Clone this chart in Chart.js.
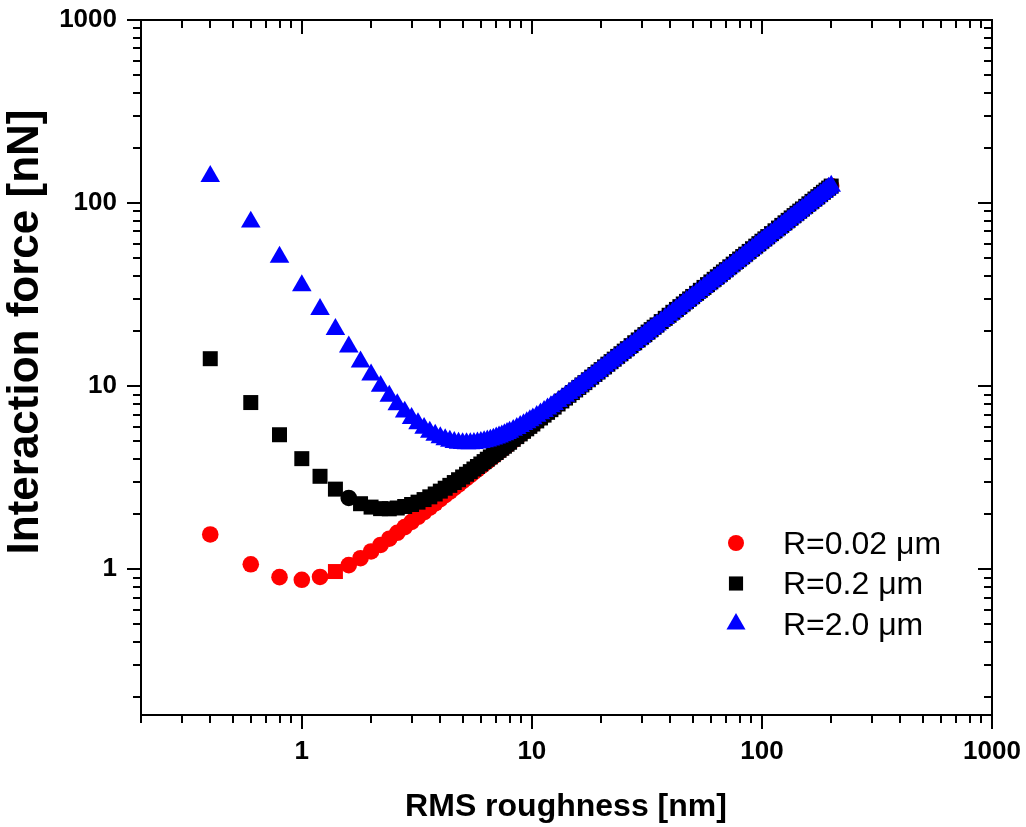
<!DOCTYPE html>
<html>
<head>
<meta charset="utf-8">
<script src="https://cdn.jsdelivr.net/npm/chart.js@4.4.1/dist/chart.umd.min.js"></script>
<style>
  body { margin: 0; background: #fff; }
  #wrap { width: 1026px; height: 827px; }
</style>
</head>
<body>
<div id="wrap"><canvas id="c" width="1026" height="827"></canvas></div>
<script>
// RMS roughness [nm]
const roughness = [
  0.4, 0.6, 0.8, 1.0, 1.2, 1.4, 1.6, 1.8, 2.0, 2.2, 2.4, 2.6, 2.8, 3.0, 3.2, 3.4, 3.6, 3.8, 4.0, 4.2,
  4.4, 4.6, 4.8, 5.0, 5.2, 5.4, 5.6, 5.8, 6.0, 6.2, 6.4, 6.6, 6.8, 7.0, 7.2, 7.4, 7.6, 7.8, 8.0,
  8.3, 8.6, 8.9, 9.2, 9.5, 9.8, 10.1, 10.5, 10.9, 11.3, 11.7, 12.1, 12.5, 13, 13.5, 14, 14.5, 15, 15.5, 16,
  16.5, 17, 17.6, 18.2, 18.8, 19.4, 20,
  20.7, 21.4, 22.1, 22.8, 23.6, 24.4, 25.2, 26, 27, 28, 29, 30, 31, 32, 33, 34, 35, 36.5, 38, 39.5,
  41, 42.5, 44, 45.5, 47, 48.5, 50,
  52, 54, 56, 58, 60, 62, 64, 66, 68, 70, 72.5, 75, 77.5, 80, 82.5, 85, 88, 91, 94, 97, 100,
  103, 106, 110, 114, 118, 122, 126, 130, 134, 138, 142, 146, 150, 155, 160, 165, 170, 175, 180, 185,
  190, 195, 200
];

// Interaction force [nN], R = 0.02 um
const forceR002 = [
  1.55, 1.065, 0.906, 0.876, 0.908, 0.972, 1.054, 1.149, 1.251, 1.358, 1.469, 1.583, 1.699, 1.816, 1.935,
  2.054, 2.174, 2.294, 2.416, 2.537, 2.659, 2.781, 2.903, 3.026, 3.148, 3.271, 3.394, 3.517, 3.640, 3.763,
  3.887, 4.010, 4.133, 4.257, 4.380, 4.504, 4.627, 4.751, 4.874,
  5.060, 5.245, 5.431, 5.617, 5.802, 5.988, 6.174, 6.421, 6.669, 6.917, 7.165, 7.412, 7.660, 7.970, 8.280,
  8.589, 8.899, 9.209, 9.519, 9.829, 10.14, 10.45, 10.82, 11.19, 11.56, 11.94, 12.31,
  12.74, 13.18, 13.61, 14.04, 14.54, 15.04, 15.53, 16.03, 16.65, 17.27, 17.89, 18.51, 19.13, 19.75, 20.37,
  20.99, 21.61, 22.54, 23.47, 24.40, 25.33, 26.26, 27.19, 28.12, 29.05, 29.98, 30.91,
  32.15, 33.39, 34.63, 35.87, 37.11, 38.35, 39.59, 40.83, 42.07, 43.31, 44.86, 46.41, 47.96, 49.51, 51.06,
  52.61, 54.47, 56.33, 58.19, 60.05, 61.91,
  63.77, 65.63, 68.11, 70.59, 73.07, 75.55, 78.03, 80.51, 82.99, 85.47, 87.95, 90.43, 92.91, 96.01, 99.11,
  102.2, 105.3, 108.4, 111.5, 114.6, 117.7, 120.8, 123.9
];

// R = 0.2 um
const forceR02 = [
  14.13, 8.14, 5.43, 4.02, 3.22, 2.74, 2.451, 2.281, 2.186, 2.144, 2.139, 2.161, 2.202, 2.258, 2.326,
  2.403, 2.487, 2.577, 2.672, 2.771, 2.873, 2.977, 3.084, 3.193, 3.304, 3.415, 3.529, 3.643, 3.758, 3.874,
  3.991, 4.108, 4.226, 4.344, 4.463, 4.582, 4.702, 4.822, 4.942,
  5.123, 5.304, 5.486, 5.668, 5.850, 6.033, 6.216, 6.461, 6.706, 6.951, 7.197, 7.442, 7.688, 7.996, 8.304,
  8.612, 8.920, 9.229, 9.537, 9.846, 10.16, 10.46, 10.84, 11.21, 11.58, 11.95, 12.32,
  12.75, 13.19, 13.62, 14.05, 14.55, 15.04, 15.54, 16.03, 16.65, 17.27, 17.89, 18.51, 19.13, 19.75, 20.37,
  20.99, 21.61, 22.54, 23.47, 24.40, 25.33, 26.26, 27.19, 28.12, 29.05, 29.98, 30.91,
  32.15, 33.39, 34.63, 35.87, 37.11, 38.35, 39.59, 40.83, 42.07, 43.31, 44.86, 46.41, 47.96, 49.51, 51.06,
  52.61, 54.47, 56.33, 58.19, 60.05, 61.91,
  63.77, 65.63, 68.11, 70.59, 73.07, 75.55, 78.03, 80.51, 82.99, 85.47, 87.95, 90.43, 92.91, 96.01, 99.11,
  102.2, 105.3, 108.4, 111.5, 114.6, 117.7, 120.8, 123.9
];

// R = 2.0 um
const forceR20 = [
  139.9, 78.87, 50.70, 35.46, 26.31, 20.42, 16.42, 13.60, 11.54, 10.00, 8.836, 7.935, 7.232, 6.679, 6.242,
  5.896, 5.622, 5.407, 5.238, 5.109, 5.012, 4.942, 4.895, 4.867, 4.856, 4.859, 4.874, 4.900, 4.936, 4.979,
  5.030, 5.087, 5.150, 5.217, 5.290, 5.366, 5.446, 5.529, 5.615,
  5.749, 5.889, 6.032, 6.180, 6.332, 6.486, 6.643, 6.856, 7.073, 7.293, 7.516, 7.742, 7.969, 8.256, 8.545,
  8.836, 9.130, 9.425, 9.721, 10.02, 10.32, 10.62, 10.98, 11.34, 11.70, 12.07, 12.43,
  12.86, 13.28, 13.71, 14.14, 14.63, 15.12, 15.61, 16.10, 16.72, 17.33, 17.95, 18.56, 19.18, 19.80, 20.41,
  21.03, 21.65, 22.57, 23.50, 24.43, 25.36, 26.28, 27.21, 28.14, 29.07, 30.00, 30.93,
  32.17, 33.40, 34.64, 35.88, 37.12, 38.36, 39.60, 40.84, 42.08, 43.32, 44.87, 46.42, 47.97, 49.52, 51.06,
  52.61, 54.47, 56.33, 58.19, 60.05, 61.91,
  63.77, 65.63, 68.11, 70.59, 73.07, 75.55, 78.03, 80.51, 82.99, 85.47, 87.95, 90.43, 92.91, 96.01, 99.11,
  102.2, 105.3, 108.4, 111.5, 114.6, 117.7, 120.8, 123.9
];

const seriesNames = ["R=0.02 \u03bcm", "R=0.2 \u03bcm", "R=2.0 \u03bcm"];
const xMajorTicks = [1, 10, 100, 1000];
const yMajorTicks = [1, 10, 100, 1000];

const FONT = '"Liberation Sans", Arial, sans-serif';

const toPoints = ys => roughness.map((x, i) => ({x: x, y: ys[i]}));

// log ticks 1..9 x 10^n inside [min, max]
const logTicks = (min, max) => {
	const out = [];
	for (let e = -2; e <= 3; e++) {
		for (let k = 1; k <= 9; k++) {
			const v = parseFloat((k * Math.pow(10, e)).toPrecision(6));
			if (v >= min - 1e-9 && v <= max + 1e-9) out.push({value: v});
		}
	}
	return out;
};
const isMajor = (v, majors) => majors.some(m => Math.abs(m - v) < 1e-9);

const frame = {
	id: "frame",
	afterDraw(chart) {
		const {ctx, chartArea: a, scales: {x, y}} = chart;
		ctx.save();
		ctx.strokeStyle = "#000";
		ctx.lineWidth = 2;
		ctx.strokeRect(a.left, a.top, a.right - a.left, a.bottom - a.top);

		const seg = (x1, y1, x2, y2) => {
			ctx.beginPath();
			ctx.moveTo(x1, y1);
			ctx.lineTo(x2, y2);
			ctx.stroke();
		};
		x.ticks.forEach(t => {
			const px = Math.round(x.getPixelForValue(t.value));
			const len = isMajor(t.value, xMajorTicks) ? 14 : 8;
			seg(px, a.bottom, px, a.bottom + len);
			seg(px, a.top, px, a.top + len);
		});
		y.ticks.forEach(t => {
			const py = Math.round(y.getPixelForValue(t.value));
			const len = isMajor(t.value, yMajorTicks) ? 14 : 8;
			seg(a.left - len, py, a.left, py);
			seg(a.right - len, py, a.right, py);
		});

		// axis titles
		ctx.fillStyle = "#000";
		ctx.font = "bold 32px " + FONT;
		ctx.textAlign = "center";
		ctx.textBaseline = "alphabetic";
		ctx.fillText("RMS roughness [nm]", 566, 816);

		ctx.save();
		ctx.translate(38, 332);
		ctx.rotate(-Math.PI / 2);
		ctx.font = "bold 44px " + FONT;
		ctx.fillText("Interaction force [nN]", 0, 0);
		ctx.restore();

		// legend
		ctx.font = "32px " + FONT;
		ctx.textAlign = "left";
		ctx.textBaseline = "middle";
		chart.data.datasets.forEach((ds, i) => {
			const cy = 543 + i * 40.5;
			ctx.fillStyle = ds.backgroundColor;
			ctx.strokeStyle = ds.backgroundColor;
			Chart.helpers.drawPoint(ctx, {pointStyle: ds.legendStyle, radius: ds.legendRadius, rotation: 0, borderWidth: 0}, 736, cy);
			ctx.fillStyle = "#000";
			ctx.fillText(ds.label, 783, cy + 2);
		});
		ctx.restore();
	}
};

new Chart(document.getElementById("c"), {
	type: "scatter",
	data: {
		datasets: [
			{
				label: seriesNames[0],
				data: toPoints(forceR002),
				backgroundColor: "#ff0000",
				borderColor: "#ff0000",
				pointStyle: roughness.map((x, i) => i === 5 ? "rect" : "circle"),
				pointRadius: roughness.map((x, i) => i === 5 ? 10.6 : 8.3),
				legendStyle: "circle",
				legendRadius: 8,
				order: 3
			},
			{
				label: seriesNames[1],
				data: toPoints(forceR02),
				backgroundColor: "#000000",
				borderColor: "#000000",
				pointStyle: roughness.map((x, i) => i === 6 ? "circle" : "rect"),
				pointRadius: roughness.map((x, i) => i === 6 ? 8.3 : 10.6),
				legendStyle: "rect",
				legendRadius: 10,
				order: 2
			},
			{
				label: seriesNames[2],
				data: toPoints(forceR20),
				backgroundColor: "#0000ff",
				borderColor: "#0000ff",
				pointStyle: "triangle",
				pointRadius: 11.3,
				legendStyle: "triangle",
				legendRadius: 11,
				order: 1
			}
		]
	},
	options: {
		responsive: false,
		animation: false,
		devicePixelRatio: 1,
		events: [],
		elements: {point: {borderWidth: 0, hoverRadius: 0}},
		layout: {padding: {top: 20, right: 34, left: 0, bottom: 0}},
		plugins: {
			legend: {display: false},
			tooltip: {enabled: false}
		},
		scales: {
			x: {
				type: "logarithmic",
				position: "bottom",
				min: 0.2,
				max: 1000,
				afterFit: s => { s.height = 112; s.paddingLeft = 0; s.paddingRight = 0; },
				afterBuildTicks: s => { s.ticks = logTicks(0.2, 1000); },
				grid: {display: false, drawTicks: false},
				border: {display: false},
				ticks: {
					autoSkip: false,
					maxRotation: 0,
					minRotation: 0,
					padding: 21,
					color: "#000",
					font: {family: FONT, size: 26, weight: "bold"},
					callback: v => isMajor(v, xMajorTicks) ? String(v) : ""
				}
			},
			y: {
				type: "logarithmic",
				position: "left",
				min: 0.16,
				max: 1000,
				afterFit: s => { s.width = 141; s.paddingTop = 0; s.paddingBottom = 0; },
				afterBuildTicks: s => { s.ticks = logTicks(0.16, 1000); },
				grid: {display: false, drawTicks: false},
				border: {display: false},
				ticks: {
					autoSkip: false,
					padding: 24,
					color: "#000",
					font: {family: FONT, size: 26, weight: "bold"},
					callback: v => isMajor(v, yMajorTicks) ? String(v) : ""
				}
			}
		}
	},
	plugins: [frame]
});
</script>
</body>
</html>
